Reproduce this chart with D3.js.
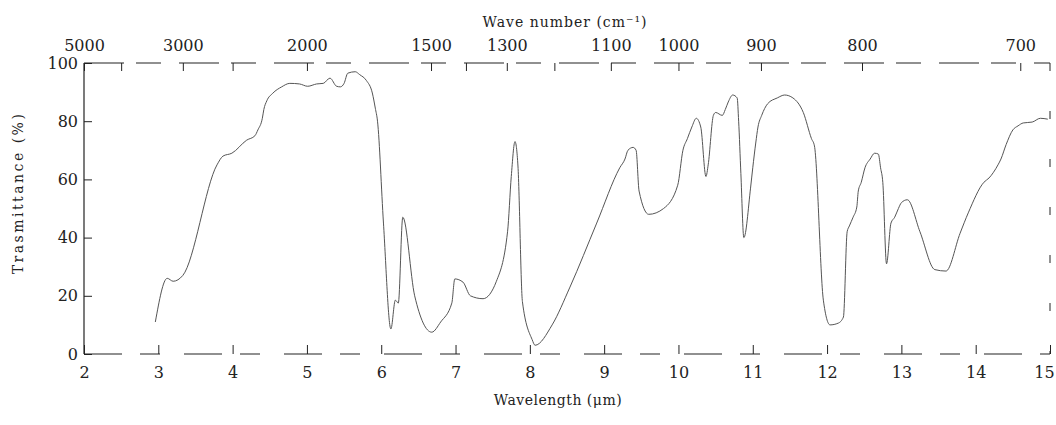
<!DOCTYPE html>
<html>
<head>
<meta charset="utf-8">
<script src="https://cdn.jsdelivr.net/npm/d3@7"></script>
<style>
  body { margin: 0; background: #fff; }
  text { font-family: "DejaVu Serif", "Liberation Serif", serif; fill: #222; }
</style>
</head>
<body>
<div id="chart"></div>
<script>
// spectrum (wavelength in µm, transmittance in %)
const wavelength = [2.96, 3.12, 3.2, 3.33, 3.79, 3.87, 3.99, 4.19, 4.30, 4.34, 4.40, 4.42, 4.46, 4.54, 4.66,
  4.77, 4.90, 5.01, 5.13, 5.22, 5.31, 5.40, 5.45, 5.50, 5.55, 5.65, 5.71, 5.80, 5.88, 5.92, 5.95, 6.03,
  6.13, 6.19, 6.23, 6.29, 6.45, 6.68, 6.80, 6.95, 6.99, 7.10, 7.20, 7.37, 7.55, 7.70, 7.75, 7.80, 7.84,
  7.90, 8.03, 8.07, 8.30, 8.54, 8.90, 9.21, 9.28, 9.32, 9.39, 9.43, 9.47, 9.60, 9.80, 9.99, 10.06, 10.12,
  10.18, 10.24, 10.30, 10.37, 10.40, 10.47, 10.50, 10.59, 10.63, 10.67, 10.73, 10.79, 10.81, 10.84, 10.88,
  10.97, 11.00, 11.04, 11.07, 11.12, 11.20, 11.33, 11.43, 11.54, 11.68, 11.79, 11.83, 11.95, 12.04, 12.15,
  12.22, 12.27, 12.30, 12.35, 12.40, 12.42, 12.46, 12.51, 12.58, 12.64, 12.69, 12.72, 12.75, 12.80, 12.86,
  12.91, 12.96, 13.00, 13.08, 13.25, 13.45, 13.60, 13.79, 13.90, 14.11, 14.18, 14.30, 14.34, 14.41, 14.50,
  14.57, 14.64, 14.76, 14.87, 14.97];
const transmittance = [11, 26, 25, 27, 65, 68, 69, 73.5, 75, 77, 81, 84, 87, 89.6, 91.8,
  93, 92.8, 92, 92.8, 93, 94.8, 92, 91.8, 93, 96.5, 97, 96, 94, 89.7, 84.5, 80, 45,
  8.6, 18.5, 17.5, 47, 20, 7.5, 11, 17.5, 25.8, 24.7, 20, 19, 25, 42, 61, 73, 64.6,
  18, 5, 3, 10, 23, 45, 64, 67, 70, 71, 70, 56, 48, 50, 58, 70, 74,
  78, 81, 78, 61, 65, 82, 83, 82, 84, 86.6, 89, 88, 80, 62, 40,
  57, 64, 72.5, 78, 82, 86, 88, 89, 88, 83, 74, 71.5, 18.5, 10, 10.6,
  12.7, 42, 44, 47, 50.5, 56, 59, 64, 67, 69, 68.7, 64, 59, 31, 45,
  47, 50, 52, 53, 42, 29, 28.5, 41.5, 48.5, 59, 60.5, 65, 67, 72, 77,
  78.4, 79.4, 79.7, 81, 80.7];

// axes
const wlTicks = [2, 3, 4, 5, 6, 7, 8, 9, 10, 11, 12, 13, 14, 15];
const tTicks = [0, 20, 40, 60, 80, 100];
// top scale: wave numbers and where the printed ticks sit on the wavelength scale
const wnTicks = [5000, 4000, 3000, 2500, 2000, 1500, 1400, 1300, 1200, 1100, 1000, 900, 800, 700];
const wnTickAt = [2.0, 2.5, 3.33, 4.0, 5.0, 6.67, 7.14, 7.69, 8.33, 9.09, 10.0, 11.11, 12.47, 14.6];
const wnLabels = [5000, 3000, 2000, 1500, 1300, 1100, 1000, 900, 800, 700];

const width = 1056, height = 425;
const svg = d3.select('#chart').append('svg')
  .attr('width', width)
  .attr('height', height);

const x = d3.scaleLinear().domain([2, 15]).range([84, 1050]);
const y = d3.scaleLinear().domain([0, 100]).range([354, 63]);
const xTop = d3.scaleLinear().domain(wnTicks).range(wnTickAt.map(d => x(d)));

// frame lines (the scan is broken, so top/bottom/right are dashed)
const frame = svg.append('g').attr('stroke', '#222').attr('fill', 'none');
frame.append('line')
  .attr('x1', x(2)).attr('x2', x(2)).attr('y1', y(0)).attr('y2', y(100))
  .attr('stroke-width', 1.2);
frame.append('line')
  .attr('x1', x(2)).attr('x2', x(15)).attr('y1', y(100)).attr('y2', y(100))
  .attr('stroke-dasharray', '40,12,25,18')
  .attr('stroke-width', 1.1);
frame.append('line')
  .attr('x1', x(2)).attr('x2', x(15)).attr('y1', y(0)).attr('y2', y(0))
  .attr('stroke-dasharray', '38,18,20,24')
  .attr('stroke-width', 1.1);
frame.append('line')
  .attr('x1', x(15)).attr('x2', x(15)).attr('y1', y(100)).attr('y2', y(0))
  .attr('stroke-dasharray', '8,40')
  .attr('stroke-width', 1);

// left axis, ticks point inward
const yAxis = svg.append('g')
  .attr('transform', `translate(${x(2)},0)`)
  .call(d3.axisLeft(y).tickValues(tTicks).tickSize(-8).tickPadding(6));
yAxis.select('.domain').remove();

// bottom axis, ticks point up
const xAxis = svg.append('g')
  .attr('transform', `translate(0,${y(0)})`)
  .call(d3.axisBottom(x).tickValues(wlTicks).tickSize(-9).tickPadding(13));
xAxis.select('.domain').remove();
xAxis.selectAll('.tick text').filter(d => d === 15).attr('dx', -6);

// top wave number axis, ticks hang down
const topAxis = svg.append('g')
  .attr('transform', `translate(0,${y(100)})`)
  .call(d3.axisTop(xTop).tickValues(wnTicks).tickSize(-8).tickPadding(12)
    .tickFormat(d => wnLabels.includes(d) ? d : ''));
topAxis.select('.domain').remove();

svg.selectAll('.tick text')
  .style('font-family', '"DejaVu Serif", serif')
  .style('font-size', '16px')
  .attr('fill', '#222');
svg.selectAll('.tick line').attr('stroke', '#222');

// spectrum trace
const line = d3.line()
  .x((d, i) => x(wavelength[i]))
  .y(d => y(d))
  .curve(d3.curveMonotoneX);

svg.append('path')
  .datum(transmittance)
  .attr('fill', 'none')
  .attr('stroke', '#555')
  .attr('stroke-width', 1)
  .attr('d', line);

// titles
svg.append('text')
  .attr('x', 565).attr('y', 27)
  .attr('text-anchor', 'middle')
  .style('font-size', '14px')
  .style('letter-spacing', '1px')
  .text('Wave number (cm\u207B\u00B9)');

svg.append('text')
  .attr('x', 558).attr('y', 405)
  .attr('text-anchor', 'middle')
  .style('font-size', '14px')
  .style('letter-spacing', '0.5px')
  .text('Wavelength (\u03BCm)');

svg.append('text')
  .attr('transform', `translate(23,193) rotate(-90)`)
  .attr('text-anchor', 'middle')
  .style('font-size', '14px')
  .style('letter-spacing', '2.5px')
  .text('Trasmittance (%)');
</script>
</body>
</html>
